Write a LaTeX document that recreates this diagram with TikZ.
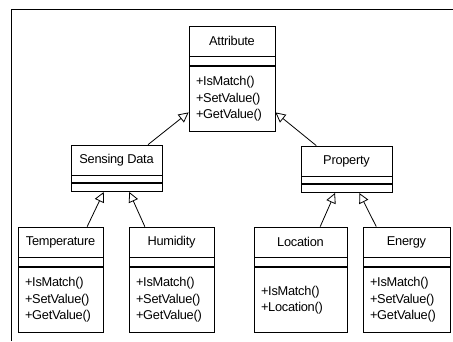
\documentclass[tikz,border=0pt]{standalone}
\usepackage{fontspec}
\setmainfont[LetterSpace=-2]{Liberation Sans}
\usetikzlibrary{positioning, arrows.meta}

\begin{document}
\begin{tikzpicture}[
        x = 1pt, y = -1pt,
        line width = 0.8pt,
        every node/.style = {font = \fontsize{12.8}{16.5}\selectfont},
        cname/.style = {draw, minimum width = #1, minimum height = 30, inner sep = 0pt},
        cattr/.style = {draw, minimum width = #1, minimum height = 9, inner sep = 0pt},
        cops/.style = {draw, text width = #1, minimum height = 65, inner xsep = 7pt,
                       inner ysep = 0pt, align = left},
        inherit/.style = {-{Triangle[open, length = 10pt, width = 10pt]}}]

      \useasboundingbox (0,0) rectangle (453,341);

      %frame
      \draw (11.5,341) -- (11.5,9.5) -- (453,9.5);

      %root
      \node[cname = 86] (AttrName) at (232,41) {Attribute};
      \node[cattr = 86] (AttrAttr) [below = 0pt of AttrName] {};
      \node[cops = 72] (AttrOps) [below = 0pt of AttrAttr] {+IsMatch()\\+SetValue()\\+GetValue()};

      %left branch
      \node[cname = 91] (SensName) at (116.5,160) {Sensing Data};
      \node[cattr = 91, minimum height = 7] (SensAttr) [below = 0pt of SensName] {};
      \node[cattr = 91, minimum height = 8] (SensOps) [below = 0pt of SensAttr] {};

      \node[cname = 85] (TempName) at (60.5,242) {Temperature};
      \node[cattr = 85] (TempAttr) [below = 0pt of TempName] {};
      \node[cops = 71] (TempOps) [below = 0pt of TempAttr] {+IsMatch()\\+SetValue()\\+GetValue()};

      \node[cname = 85] (HumName) at (171.5,242) {Humidity};
      \node[cattr = 85] (HumAttr) [below = 0pt of HumName] {};
      \node[cops = 71] (HumOps) [below = 0pt of HumAttr] {+IsMatch()\\+SetValue()\\+GetValue()};

      %right branch
      \node[cname = 91] (PropName) at (346.5,161) {Property};
      \node[cattr = 91, minimum height = 7] (PropAttr) [below = 0pt of PropName] {};
      \node[cattr = 91, minimum height = 8] (PropOps) [below = 0pt of PropAttr] {};

      \node[cname = 93] (LocName) at (300.5,242) {Location};
      \node[cattr = 93] (LocAttr) [below = 0pt of LocName] {};
      \node[cops = 79] (LocOps) [below = 0pt of LocAttr] {+IsMatch()\\+Location()};

      \node[cname = 87] (EnergyName) at (406.5,242) {Energy};
      \node[cattr = 87] (EnergyAttr) [below = 0pt of EnergyName] {};
      \node[cops = 73] (EnergyOps) [below = 0pt of EnergyAttr] {+IsMatch()\\+SetValue()\\+GetValue()};

      %generalization edges
      \path[inherit]
      (SensName.26) edge (AttrOps.197)
      (PropName.153) edge (AttrOps.343)
      (TempName.30) edge (SensOps.199)
      (HumName.150) edge (SensOps.341)
      (LocName.38) edge (PropOps.201)
      (EnergyName.153) edge (PropOps.341)
      ;
    \end{tikzpicture}
\end{document}
